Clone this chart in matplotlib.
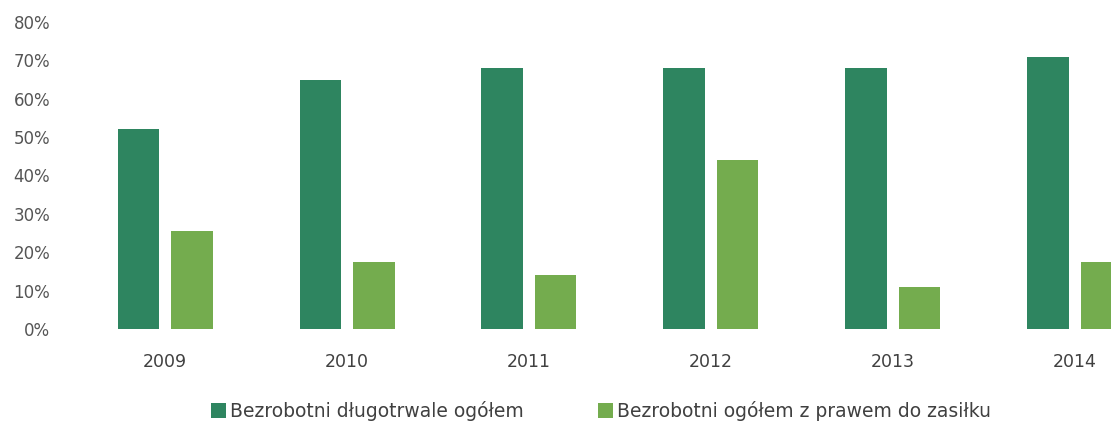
import numpy as np
import matplotlib
matplotlib.use("Agg")
import matplotlib.pyplot as plt
from matplotlib.ticker import FuncFormatter

# Dane z wykresu
years = ["2009", "2010", "2011", "2012", "2013", "2014"]
dlugotrwale = [52, 65, 68, 68, 68, 71]
z_prawem = [25.5, 17.5, 14, 44, 11, 17.5]
labels = ["Bezrobotni długotrwale ogółem", "Bezrobotni ogółem z prawem do zasiłku"]

plt.rcParams["font.family"] = ["DejaVu Sans"]

fig = plt.figure(figsize=(11.11, 4.24), dpi=100)
ax = fig.add_axes([60 / 1111, 95 / 424, 1 - 60 / 1111, (329 - 22) / 424])

x = np.arange(len(years))
w = 0.23
off = 0.146
b1 = ax.bar(x - off, dlugotrwale, w, color="#2e8560", label=labels[0])
b2 = ax.bar(x + off, z_prawem, w, color="#74ac4e", label=labels[1])

ax.set_ylim(0, 80)
ax.set_xlim(-0.577, 5.198)
ax.set_yticks(range(0, 81, 10))
ax.yaxis.set_major_formatter(FuncFormatter(lambda v, p: f"{int(v)}%"))
ax.set_xticks(x)
ax.set_xticklabels(years)
ax.tick_params(axis="y", length=0, pad=7, labelsize=12, labelcolor="#555555")
ax.tick_params(axis="x", length=0, pad=17, labelsize=12.5, labelcolor="#404040")
for s in ax.spines.values():
    s.set_visible(False)

fig.legend(handles=[b1, b2], labels=labels, loc="center", ncol=2,
           bbox_to_anchor=(0.541, 13 / 424), frameon=False, fontsize=13.5,
           handlelength=0.8, handleheight=0.8, handletextpad=0.2,
           columnspacing=4.0, labelcolor="#404040")

fig.savefig("out.png", dpi=100)
